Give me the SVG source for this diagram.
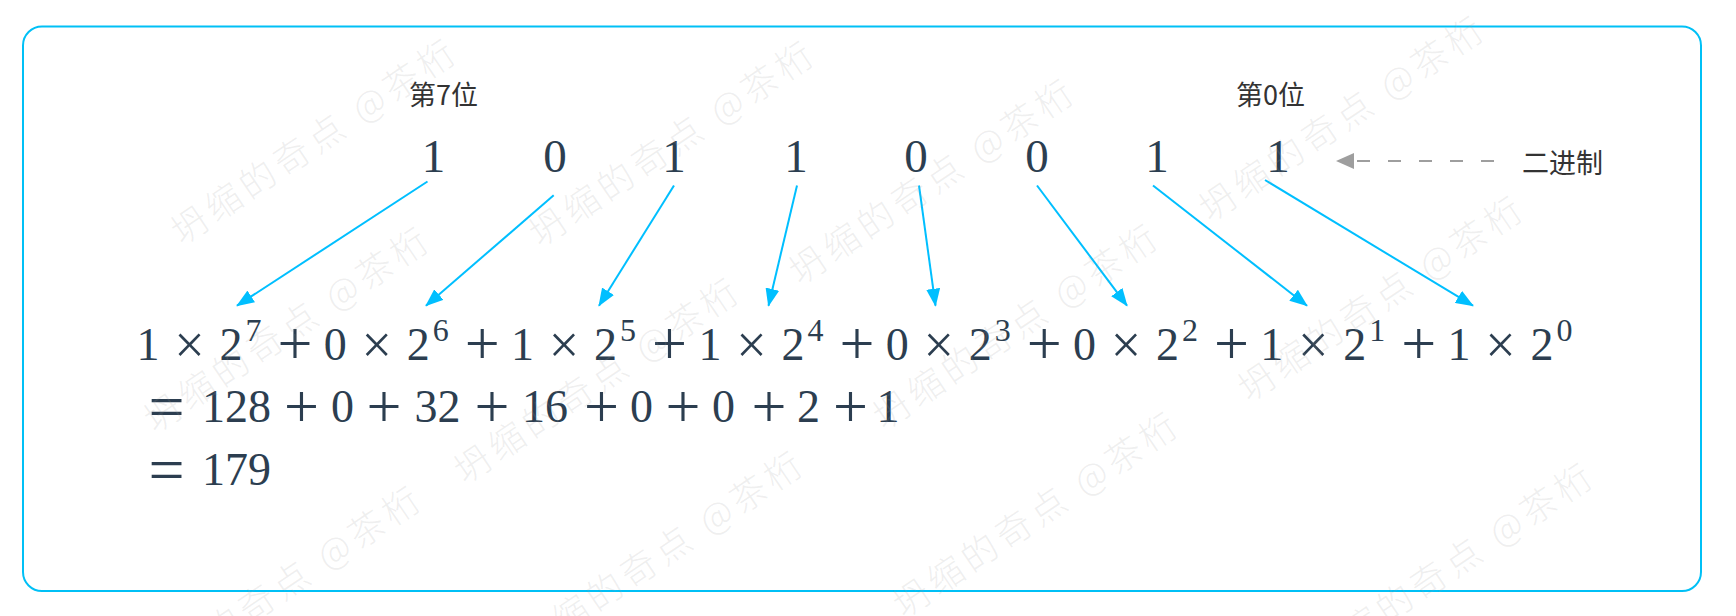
<svg xmlns="http://www.w3.org/2000/svg" width="1736" height="616" viewBox="0 0 1736 616">
<style>
.lbl{font-family:"Noto Sans CJK SC","Noto Sans",sans-serif;font-size:27px;fill:#333333}
.m{font-family:"Liberation Serif","DejaVu Serif",serif;fill:#2c3e50;text-anchor:middle}
.d{font-size:46px}
.top{font-size:47px}
.sup{font-size:32px}
.pl{font-size:62px}
.mu{font-size:54px}
.eq{font-size:64px}
.wm{font-family:"Noto Sans CJK SC",sans-serif;font-size:36px;font-weight:300;letter-spacing:5px;fill:#9a9a9a;fill-opacity:0.16}
.ar{stroke:#00bfff;stroke-width:2;fill:none;marker-end:url(#ah)}
</style>
<defs>
<marker id="ah" viewBox="0 0 18 14" refX="17" refY="7" markerWidth="18" markerHeight="14" orient="auto" markerUnits="userSpaceOnUse">
<path d="M0,0 L18,7 L0,14 z" fill="#00bfff"/>
</marker>
</defs>
<rect x="0" y="0" width="1736" height="616" fill="#ffffff"/>
<g id="frame"><rect x="23" y="26.5" width="1678" height="564.5" rx="19" ry="19" fill="none" stroke="#00c0f6" stroke-width="2"/></g>

<g id="label-bit7"><text class="lbl" x="409" y="105">第7位</text></g>
<g id="label-bit0"><text class="lbl" x="1236" y="105">第0位</text></g>
<g id="label-binary"><text class="lbl" x="1522" y="173">二进制</text></g>

<g id="binary-digits" class="m top">
<text x="433.5" y="172">1</text>
<text x="555" y="172">0</text>
<text x="674" y="172">1</text>
<text x="796" y="172">1</text>
<text x="916" y="172">0</text>
<text x="1037" y="172">0</text>
<text x="1157" y="172">1</text>
<text x="1278" y="172">1</text>
</g>

<g id="formula-line1" class="m">
<text class="d" x="148" y="359.5">1</text><text class="mu" x="189.5" y="363">×</text><text class="d" x="231" y="359.5">2</text><text class="sup" x="253.5" y="341">7</text><text class="pl" x="295" y="364">+</text>
<text class="d" x="335.3" y="359.5">0</text><text class="mu" x="376.8" y="363">×</text><text class="d" x="418.3" y="359.5">2</text><text class="sup" x="440.8" y="341">6</text><text class="pl" x="482.3" y="364">+</text>
<text class="d" x="522.6" y="359.5">1</text><text class="mu" x="564.1" y="363">×</text><text class="d" x="605.6" y="359.5">2</text><text class="sup" x="628.1" y="341">5</text><text class="pl" x="669.6" y="364">+</text>
<text class="d" x="709.9" y="359.5">1</text><text class="mu" x="751.4" y="363">×</text><text class="d" x="792.9" y="359.5">2</text><text class="sup" x="815.4" y="341">4</text><text class="pl" x="856.9" y="364">+</text>
<text class="d" x="897.2" y="359.5">0</text><text class="mu" x="938.7" y="363">×</text><text class="d" x="980.2" y="359.5">2</text><text class="sup" x="1002.7" y="341">3</text><text class="pl" x="1044.2" y="364">+</text>
<text class="d" x="1084.5" y="359.5">0</text><text class="mu" x="1126" y="363">×</text><text class="d" x="1167.5" y="359.5">2</text><text class="sup" x="1190" y="341">2</text><text class="pl" x="1231.5" y="364">+</text>
<text class="d" x="1271.8" y="359.5">1</text><text class="mu" x="1313.3" y="363">×</text><text class="d" x="1354.8" y="359.5">2</text><text class="sup" x="1377.3" y="341">1</text><text class="pl" x="1418.8" y="364">+</text>
<text class="d" x="1459.1" y="359.5">1</text><text class="mu" x="1500.6" y="363">×</text><text class="d" x="1542.1" y="359.5">2</text><text class="sup" x="1564.6" y="341">0</text>
</g>

<g id="formula-line2" class="m">
<text class="eq" x="166.6" y="427.5">=</text>
<text class="d" x="236.5" y="422">128</text>
<text class="pl" x="301.5" y="426.5">+</text>
<text class="d" x="342.5" y="422">0</text>
<text class="pl" x="384" y="426.5">+</text>
<text class="d" x="437.5" y="422">32</text>
<text class="pl" x="492" y="426.5">+</text>
<text class="d" x="545" y="422">16</text>
<text class="pl" x="601.5" y="426.5">+</text>
<text class="d" x="641.5" y="422">0</text>
<text class="pl" x="683" y="426.5">+</text>
<text class="d" x="723.5" y="422">0</text>
<text class="pl" x="769" y="426.5">+</text>
<text class="d" x="808.5" y="422">2</text>
<text class="pl" x="850.5" y="426.5">+</text>
<text class="d" x="888" y="422">1</text>
</g>

<g id="formula-line3" class="m">
<text class="eq" x="166.6" y="490.5">=</text>
<text class="d" x="236.5" y="485">179</text>
</g>

<g id="connectors">
<line class="ar" x1="427.5" y1="181.5" x2="237" y2="305.7"/>
<line class="ar" x1="553.7" y1="195.3" x2="426" y2="305.7"/>
<line class="ar" x1="674" y1="185.5" x2="599" y2="305.7"/>
<line class="ar" x1="797" y1="185.5" x2="768.5" y2="305.7"/>
<line class="ar" x1="919" y1="185.5" x2="935.5" y2="305.7"/>
<line class="ar" x1="1037" y1="185.5" x2="1127" y2="305.7"/>
<line class="ar" x1="1153" y1="185.5" x2="1307" y2="305.7"/>
<line class="ar" x1="1265" y1="180" x2="1473" y2="305.7"/>
<line x1="1494" y1="161" x2="1354" y2="161" stroke="#9e9e9e" stroke-width="2" stroke-dasharray="13 18"/>
<path d="M1336,161 L1354,153 L1354,169 z" fill="#9e9e9e"/>
</g>

<g id="watermark" class="wm">
<text transform="translate(182,246) rotate(-34)">坍缩的奇点 @茶桁</text>
<text transform="translate(540,248) rotate(-34)">坍缩的奇点 @茶桁</text>
<text transform="translate(800,286) rotate(-34)">坍缩的奇点 @茶桁</text>
<text transform="translate(1210,223) rotate(-34)">坍缩的奇点 @茶桁</text>
<text transform="translate(155,434) rotate(-34)">坍缩的奇点 @茶桁</text>
<text transform="translate(465,485) rotate(-34)">坍缩的奇点 @茶桁</text>
<text transform="translate(884,431) rotate(-34)">坍缩的奇点 @茶桁</text>
<text transform="translate(1249,403) rotate(-34)">坍缩的奇点 @茶桁</text>
<text transform="translate(147,693) rotate(-34)">坍缩的奇点 @茶桁</text>
<text transform="translate(529,658) rotate(-34)">坍缩的奇点 @茶桁</text>
<text transform="translate(904,619) rotate(-34)">坍缩的奇点 @茶桁</text>
<text transform="translate(1319,670) rotate(-34)">坍缩的奇点 @茶桁</text>
</g>
</svg>
